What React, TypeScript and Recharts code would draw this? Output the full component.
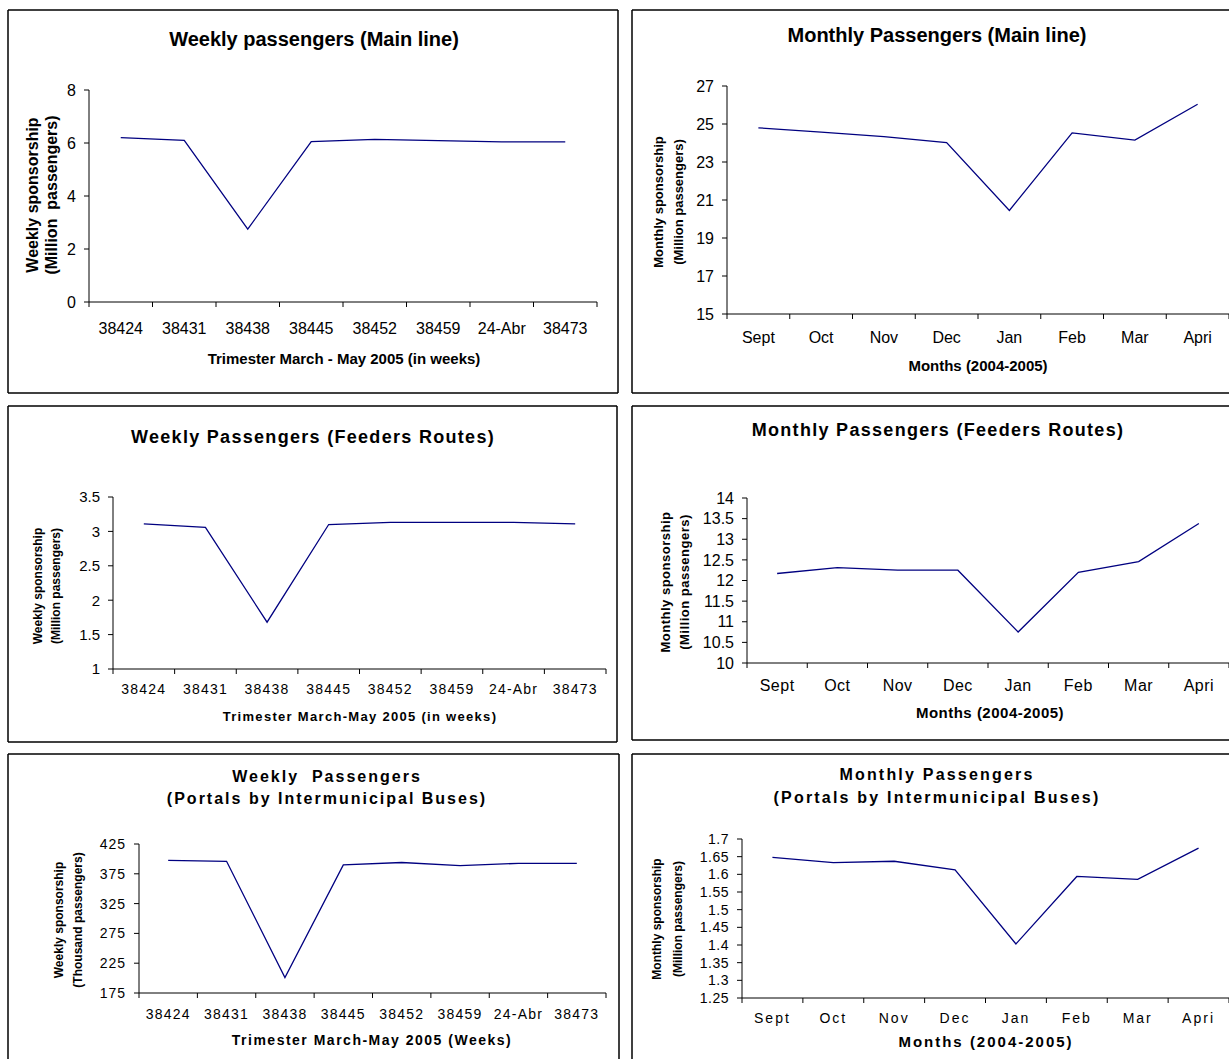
import React from 'react';
import { LineChart, Line, XAxis, YAxis } from 'recharts';

// categories
const weekLabels = ['38424', '38431', '38438', '38445', '38452', '38459', '24-Abr', '38473'];
const monthLabels = ['Sept', 'Oct', 'Nov', 'Dec', 'Jan', 'Feb', 'Mar', 'Apri'];

// series values
const weeklyMain = [6.2, 6.1, 2.75, 6.05, 6.14, 6.09, 6.04, 6.04];
const monthlyMain = [24.8, 24.57, 24.34, 24.02, 20.45, 24.53, 24.15, 26.04];
const weeklyFeeders = [3.11, 3.06, 1.68, 3.1, 3.13, 3.13, 3.13, 3.11];
const monthlyFeeders = [12.17, 12.31, 12.25, 12.25, 10.75, 12.2, 12.46, 13.38];
const weeklyPortals = [397.6, 396, 201, 390, 394, 388.6, 392.6, 392.6];
const monthlyPortals = [1.648, 1.633, 1.637, 1.613, 1.403, 1.594, 1.586, 1.674];

// y tick labels
const ticksWeeklyMain = [0, 2, 4, 6, 8];
const ticksMonthlyMain = [15, 17, 19, 21, 23, 25, 27];
const ticksWeeklyFeeders = [1, 1.5, 2, 2.5, 3, 3.5];
const ticksMonthlyFeeders = [10, 10.5, 11, 11.5, 12, 12.5, 13, 13.5, 14];
const ticksWeeklyPortals = [175, 225, 275, 325, 375, 425];
const ticksMonthlyPortals = [1.25, 1.3, 1.35, 1.4, 1.45, 1.5, 1.55, 1.6, 1.65, 1.7];

const FONT = '"Liberation Sans", Arial, sans-serif';
const LINE = '#000080';
const xTicks = [0, 0.5, 1, 1.5, 2, 2.5, 3, 3.5, 4, 4.5, 5, 5.5, 6, 6.5, 7, 7.5, 8];

type Panel = {
  box: number[]; // left top right bottom
  plot: number[]; // left top right bottom
  values: number[];
  labels: string[];
  yTicks: number[];
  yFont: number;
  yLs: number;
  xFont: number;
  xLs: number;
  xLabelY: number;
  title: string[];
  titleX: number;
  titleY: number[];
  titleSize: number;
  titleLs: number;
  yTitle: string[];
  yTitleX: number[];
  yTitleY: number;
  yTitleSize: number;
  yTitleLs: number;
  xTitle: string;
  xTitleX: number;
  xTitleY: number;
  xTitleSize: number;
  xTitleLs: number;
  border: boolean[]; // draw right, bottom
};

const panels: Panel[] = [
  {
    box: [8, 10, 618, 393], plot: [89, 90, 597, 302],
    values: weeklyMain, labels: weekLabels, yTicks: ticksWeeklyMain,
    yFont: 16, yLs: 0, xFont: 16, xLs: 0, xLabelY: 328,
    title: ['Weekly passengers (Main line)'], titleX: 314, titleY: [39], titleSize: 20, titleLs: 0,
    yTitle: ['Weekly sponsorship', '(Million  passengers)'], yTitleX: [32, 51], yTitleY: 195, yTitleSize: 16, yTitleLs: 0,
    xTitle: 'Trimester March - May 2005 (in weeks)', xTitleX: 344, xTitleY: 358, xTitleSize: 15, xTitleLs: 0,
    border: [true, true],
  },
  {
    box: [632, 10, 1240, 393], plot: [727, 86, 1229, 314],
    values: monthlyMain, labels: monthLabels, yTicks: ticksMonthlyMain,
    yFont: 16, yLs: 0, xFont: 16, xLs: 0, xLabelY: 337,
    title: ['Monthly Passengers (Main line)'], titleX: 937, titleY: [35], titleSize: 20, titleLs: 0,
    yTitle: ['Monthly sponsorship', '(Million passengers)'], yTitleX: [658, 678], yTitleY: 202, yTitleSize: 13, yTitleLs: 0,
    xTitle: 'Months (2004-2005)', xTitleX: 978, xTitleY: 365, xTitleSize: 15, xTitleLs: 0,
    border: [false, true],
  },
  {
    box: [8, 406, 617, 742], plot: [113, 497, 606, 669],
    values: weeklyFeeders, labels: weekLabels, yTicks: ticksWeeklyFeeders,
    yFont: 15, yLs: 0, xFont: 14, xLs: 1.2, xLabelY: 689,
    title: ['Weekly Passengers (Feeders Routes)'], titleX: 313, titleY: [437], titleSize: 18, titleLs: 1.3,
    yTitle: ['Weekly sponsorship', '(Million passengers)'], yTitleX: [38, 56], yTitleY: 586, yTitleSize: 12, yTitleLs: 0,
    xTitle: 'Trimester March-May 2005 (in weeks)', xTitleX: 360, xTitleY: 716, xTitleSize: 13, xTitleLs: 1.3,
    border: [true, true],
  },
  {
    box: [632, 406, 1240, 740], plot: [747, 498, 1229, 663],
    values: monthlyFeeders, labels: monthLabels, yTicks: ticksMonthlyFeeders,
    yFont: 16, yLs: 0, xFont: 16, xLs: 0.5, xLabelY: 685,
    title: ['Monthly Passengers (Feeders Routes)'], titleX: 938, titleY: [430], titleSize: 18, titleLs: 1.3,
    yTitle: ['Monthly sponsorship', '(Million passengers)'], yTitleX: [665, 684], yTitleY: 582, yTitleSize: 13, yTitleLs: 0.5,
    xTitle: 'Months (2004-2005)', xTitleX: 990, xTitleY: 712, xTitleSize: 15, xTitleLs: 0.5,
    border: [false, true],
  },
  {
    box: [8, 754, 619, 1070], plot: [139, 844, 606, 993],
    values: weeklyPortals, labels: weekLabels, yTicks: ticksWeeklyPortals,
    yFont: 14, yLs: 1, xFont: 14, xLs: 1.2, xLabelY: 1014,
    title: ['Weekly  Passengers', '(Portals by Intermunicipal Buses)'], titleX: 327, titleY: [776, 798], titleSize: 16, titleLs: 2,
    yTitle: ['Weekly sponsorship', '(Thousand passengers)'], yTitleX: [59, 78], yTitleY: 920, yTitleSize: 12, yTitleLs: 0,
    xTitle: 'Trimester March-May 2005 (Weeks)', xTitleX: 372, xTitleY: 1040, xTitleSize: 14, xTitleLs: 1.5,
    border: [true, false],
  },
  {
    box: [632, 754, 1240, 1070], plot: [742, 839, 1229, 998],
    values: monthlyPortals, labels: monthLabels, yTicks: ticksMonthlyPortals,
    yFont: 14, yLs: 0.5, xFont: 14, xLs: 2, xLabelY: 1018,
    title: ['Monthly Passengers', '(Portals by Intermunicipal Buses)'], titleX: 937, titleY: [774, 797], titleSize: 16, titleLs: 2.2,
    yTitle: ['Monthly sponsorship', '(Million passengers)'], yTitleX: [657, 678], yTitleY: 919, yTitleSize: 12, yTitleLs: 0,
    xTitle: 'Months (2004-2005)', xTitleX: 986, xTitleY: 1041, xTitleSize: 15, xTitleLs: 2,
    border: [false, false],
  },
];

const X_AXIS_H = 40;

function PanelChart({ p }: { p: Panel }) {
  const [bl, bt, br, bb] = p.box;
  const [pl, pt, pr, pb] = p.plot;
  const data = p.values.map((v, i) => ({ x: i + 0.5, v }));
  const labelOffset = p.xLabelY - pb;

  // Excel style: tick marks between categories, labels in the middle
  const renderTick = (t: any) => {
    const value = t.payload.value;
    if (Number.isInteger(value)) {
      return <line x1={t.x} y1={t.y} x2={t.x} y2={t.y + 5} stroke="#000" />;
    }
    return (
      <text x={t.x} y={t.y + labelOffset} textAnchor="middle" dominantBaseline="central"
        fill="#000" fontSize={p.xFont} fontFamily={FONT} letterSpacing={p.xLs}>
        {p.labels[Math.floor(value)]}
      </text>
    );
  };

  return (
    <div style={{ position: 'absolute', left: bl, top: bt }}>
      <LineChart
        width={br - bl}
        height={bb - bt}
        data={data}
        margin={{ top: pt - bt, right: br - pr, left: 0, bottom: bb - pb - X_AXIS_H }}
      >
        <XAxis
          type="number"
          dataKey="x"
          domain={[0, 8]}
          ticks={xTicks}
          interval={0}
          height={X_AXIS_H}
          tickLine={false}
          tickSize={0}
          tickMargin={0}
          axisLine={{ stroke: '#000' }}
          tick={renderTick}
        />
        <YAxis
          type="number"
          domain={[p.yTicks[0], p.yTicks[p.yTicks.length - 1]]}
          ticks={p.yTicks}
          interval={0}
          width={pl - bl}
          tickSize={5}
          tickMargin={8}
          axisLine={{ stroke: '#000' }}
          tickLine={{ stroke: '#000' }}
          tick={{ fill: '#000', fontSize: p.yFont, fontFamily: FONT, letterSpacing: p.yLs }}
        />
        <Line type="linear" dataKey="v" stroke={LINE} strokeWidth={1.3} dot={false} isAnimationActive={false} />
      </LineChart>
    </div>
  );
}

function PanelText({ p }: { p: Panel }) {
  const [bl, bt, br, bb] = p.box;
  return (
    <g fontFamily={FONT} fontWeight="bold" fill="#000">
      <line x1={bl} y1={bt} x2={br} y2={bt} stroke="#000" strokeWidth={1.5} />
      <line x1={bl} y1={bt} x2={bl} y2={bb} stroke="#000" strokeWidth={1.5} />
      {p.border[0] && <line x1={br} y1={bt} x2={br} y2={bb} stroke="#000" strokeWidth={1.5} />}
      {p.border[1] && <line x1={bl} y1={bb} x2={br} y2={bb} stroke="#000" strokeWidth={1.5} />}
      {p.title.map((s, i) => (
        <text key={i} x={p.titleX} y={p.titleY[i]} textAnchor="middle" dominantBaseline="central"
          fontSize={p.titleSize} letterSpacing={p.titleLs} style={{ whiteSpace: 'pre' }}>
          {s}
        </text>
      ))}
      {p.yTitle.map((s, i) => (
        <text key={i} x={p.yTitleX[i]} y={p.yTitleY} textAnchor="middle" dominantBaseline="central"
          fontSize={p.yTitleSize} letterSpacing={p.yTitleLs} style={{ whiteSpace: 'pre' }}
          transform={`rotate(-90 ${p.yTitleX[i]} ${p.yTitleY})`}>
          {s}
        </text>
      ))}
      <text x={p.xTitleX} y={p.xTitleY} textAnchor="middle" dominantBaseline="central"
        fontSize={p.xTitleSize} letterSpacing={p.xTitleLs}>
        {p.xTitle}
      </text>
    </g>
  );
}

export default function App() {
  return (
    <div style={{ position: 'absolute', left: 0, top: 0, width: 1229, height: 1059, overflow: 'hidden', background: '#fff' }}>
      {panels.map((p, i) => (
        <PanelChart key={i} p={p} />
      ))}
      <svg width={1229} height={1059} style={{ position: 'absolute', left: 0, top: 0, pointerEvents: 'none' }}>
        {panels.map((p, i) => (
          <PanelText key={i} p={p} />
        ))}
      </svg>
    </div>
  );
}
